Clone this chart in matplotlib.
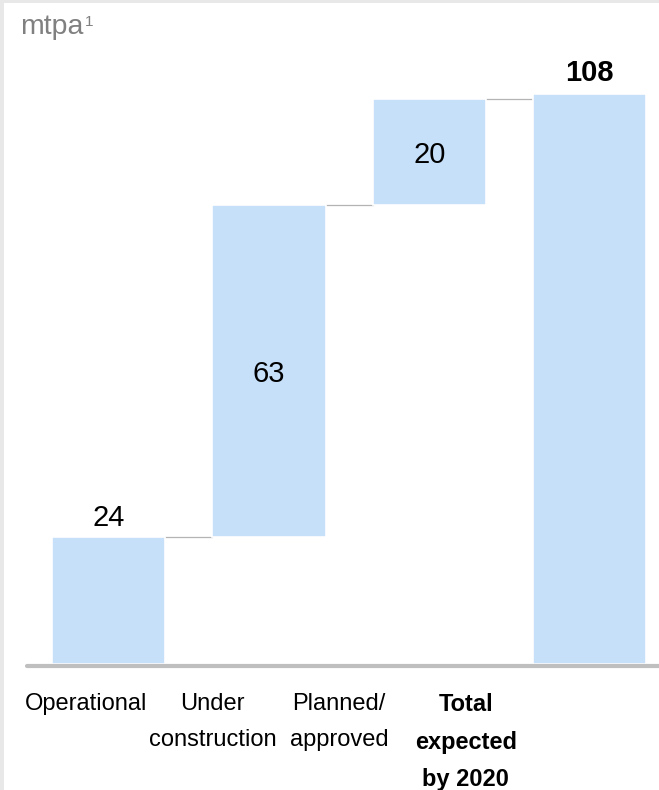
import matplotlib.pyplot as plt
from matplotlib.patches import Rectangle

plt.rcParams['font.family'] = ['Liberation Sans', 'DejaVu Sans']

# Capacity build-up, mtpa
categories = ['Operational', 'Under\nconstruction', 'Planned/\napproved', 'Total\nexpected\nby 2020']
steps = [24, 63, 20]
total = 108

bar_color = '#C6E0FA'
line_gray = '#B4B4B4'

fig = plt.figure(figsize=(6.59, 7.90), dpi=100)
fig.patch.set_facecolor('white')

# thin grey frame on the left and top edges
fig.patches.append(Rectangle((0, 0), 4 / 659, 1, transform=fig.transFigure,
                             facecolor='#E8E8E8', edgecolor='none', zorder=0))
fig.patches.append(Rectangle((0, 1 - 3 / 790), 1, 3 / 790, transform=fig.transFigure,
                             facecolor='#E8E8E8', edgecolor='none', zorder=0))

ax = fig.add_axes([27 / 659, 1 - 664 / 790, 1 - 27 / 659, (664 - 40) / 790])
ax.set_xlim(-0.51, 3.434)
ax.set_ylim(0, (664 - 40) / 5.28)

width = 0.706
bottoms = [0]
for v in steps[:-1]:
    bottoms.append(bottoms[-1] + v)

xs = list(range(len(categories)))
heights = steps + [total]
base = bottoms + [0]
ax.bar(xs, heights, bottom=base, width=width, color=bar_color,
       edgecolor='white', linewidth=1.2, zorder=2)

# connectors between consecutive bar tops
tops = [b + h for b, h in zip(base, heights)]
for i in range(len(xs) - 1):
    ax.plot([xs[i] + width / 2, xs[i + 1] - width / 2], [tops[i], tops[i]],
            color=line_gray, lw=0.9, zorder=1)

# value labels
fs = 21
ax.text(xs[0], tops[0] + 2.1, str(steps[0]), ha='center', va='baseline', fontsize=fs)
for i in (1, 2):
    ax.text(xs[i], base[i] + heights[i] / 2, str(steps[i]), ha='center',
            va='center_baseline', fontsize=fs)
ax.text(xs[3], tops[3] + 2.4, str(total), ha='center', va='baseline',
        fontsize=fs, fontweight='bold')

for s in ax.spines.values():
    s.set_visible(False)
ax.axhline(-0.4, color='#BFBFBF', lw=3, solid_capstyle='round', zorder=3,
           clip_on=False)
ax.set_yticks([])

# category labels sit on a tighter pitch than the bars
label_pos = [-0.142 + 0.79 * i for i in xs]
ax.set_xticks(label_pos)
ax.set_xticklabels(categories, fontsize=17, linespacing=1.8)
ax.get_xticklabels()[-1].set_fontweight('bold')
ax.tick_params(axis='x', length=0, pad=21)

fig.text(20 / 659, 1 - 34 / 790, 'mtpa', ha='left', va='baseline',
         fontsize=20.5, color='#808080')
fig.text(85 / 659, 1 - 26 / 790, '1', ha='left', va='baseline',
         fontsize=11, color='#808080')

fig.savefig('out.png', dpi=100, facecolor='white')
